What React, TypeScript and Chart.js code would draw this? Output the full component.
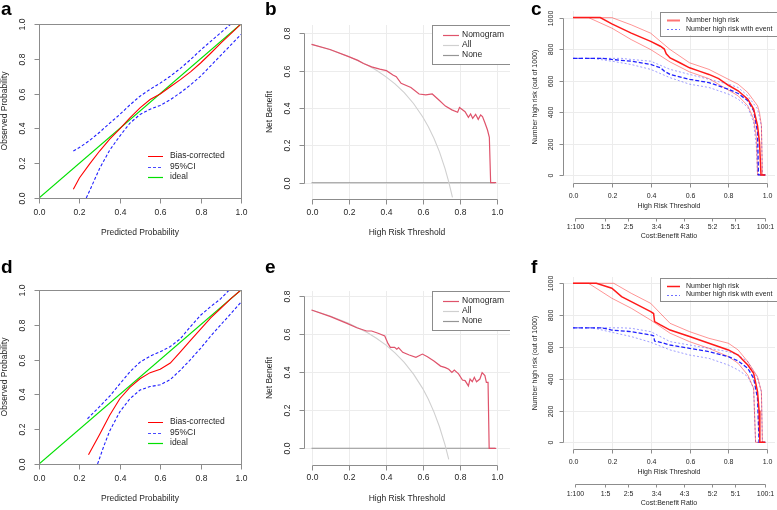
import React, { useEffect, useRef } from 'react';
import { Chart, registerables } from 'chart.js';

Chart.register(...registerables);

const FONT = '"Liberation Sans", Arial, Helvetica, sans-serif';
const TEXT = '#262626';
const AXIS = '#8c8c8c';

// ---------- tick labels ----------
const probTicks = [0, 0.2, 0.4, 0.6, 0.8, 1.0];
const probTickLabels = ['0.0', '0.2', '0.4', '0.6', '0.8', '1.0'];
const nbTicks = [0, 0.2, 0.4, 0.6, 0.8];
const nbTickLabels = ['0.0', '0.2', '0.4', '0.6', '0.8'];
const countTicks = [0, 200, 400, 600, 800, 1000];
const countTickLabels = ['0', '200', '400', '600', '800', '1000'];
const costBenefitLabels = ['1:100', '1:5', '2:5', '3:4', '4:3', '5:2', '5:1', '100:1'];
const costBenefitAt = [0.0099, 0.1667, 0.2857, 0.4286, 0.5714, 0.7143, 0.8333, 0.9901];

// ---------- panel a (calibration) ----------
const aIdealX = [0, 1];
const aIdealY = [0, 1];
const aBiasX = [0.17, 0.2, 0.25, 0.3, 0.35, 0.4, 0.45, 0.5, 0.55, 0.6, 0.65, 0.7, 0.75, 0.8, 0.85, 0.9, 0.95, 1.0];
const aBiasY = [0.05, 0.115, 0.195, 0.27, 0.338, 0.397, 0.46, 0.518, 0.566, 0.598, 0.639, 0.68, 0.725, 0.776, 0.832, 0.89, 0.945, 1.0];
const aUpperX = [0.17, 0.2, 0.25, 0.3, 0.35, 0.4, 0.45, 0.5, 0.55, 0.6, 0.65, 0.7, 0.75, 0.8, 0.85, 0.9, 0.95, 1.0];
const aUpperY = [0.27, 0.29, 0.33, 0.378, 0.43, 0.48, 0.535, 0.585, 0.625, 0.66, 0.7, 0.745, 0.795, 0.85, 0.9, 0.95, 1.0, 1.05];
const aLowerX = [0.234, 0.25, 0.3, 0.35, 0.4, 0.45, 0.5, 0.55, 0.6, 0.65, 0.7, 0.75, 0.8, 0.85, 0.9, 0.95, 1.0];
const aLowerY = [0, 0.04, 0.17, 0.275, 0.356, 0.43, 0.48, 0.51, 0.532, 0.565, 0.605, 0.65, 0.7, 0.76, 0.82, 0.88, 0.94];

// ---------- panel d (calibration) ----------
const dIdealX = [0, 1];
const dIdealY = [0, 1];
const dBiasX = [0.245, 0.3, 0.35, 0.4, 0.45, 0.5, 0.55, 0.6, 0.65, 0.7, 0.75, 0.8, 0.85, 0.9, 0.95, 1.0];
const dBiasY = [0.053, 0.17, 0.28, 0.375, 0.44, 0.49, 0.525, 0.545, 0.58, 0.645, 0.71, 0.775, 0.84, 0.895, 0.95, 1.0];
const dUpperX = [0.24, 0.3, 0.35, 0.4, 0.45, 0.5, 0.55, 0.6, 0.65, 0.7, 0.75, 0.8, 0.85, 0.9, 0.95, 1.0];
const dUpperY = [0.26, 0.33, 0.39, 0.46, 0.53, 0.585, 0.62, 0.645, 0.675, 0.72, 0.79, 0.855, 0.905, 0.95, 1.01, 1.06];
const dLowerX = [0.29, 0.32, 0.35, 0.4, 0.45, 0.5, 0.55, 0.6, 0.65, 0.7, 0.75, 0.8, 0.85, 0.9, 0.95, 1.0];
const dLowerY = [0, 0.1, 0.19, 0.3, 0.375, 0.425, 0.445, 0.455, 0.485, 0.54, 0.6, 0.665, 0.735, 0.8, 0.865, 0.93];

// ---------- panel b (decision curve) ----------
const bNomX = [0, 0.1, 0.2, 0.25, 0.28, 0.324, 0.368, 0.404, 0.439, 0.457, 0.483, 0.536, 0.58, 0.616, 0.651, 0.687, 0.722, 0.757, 0.788, 0.798, 0.828, 0.846, 0.858, 0.869, 0.885, 0.899, 0.912, 0.922, 0.935, 0.949, 0.959, 0.966, 0.996];
const bNomY = [0.741, 0.713, 0.675, 0.655, 0.638, 0.62, 0.608, 0.6, 0.577, 0.568, 0.532, 0.51, 0.475, 0.47, 0.475, 0.443, 0.41, 0.39, 0.377, 0.403, 0.38, 0.35, 0.368, 0.345, 0.366, 0.339, 0.3625, 0.354, 0.321, 0.282, 0.243, 0, 0];
const bAllX = [0, 0.1, 0.2, 0.3, 0.35, 0.4, 0.45, 0.5, 0.55, 0.6, 0.63, 0.66, 0.69, 0.72, 0.74, 0.76];
const bAllY = [0.741, 0.712, 0.676, 0.63, 0.602, 0.568, 0.529, 0.482, 0.424, 0.352, 0.3, 0.238, 0.165, 0.075, 0.004, -0.079];
const bNoneX = [0, 0.99];
const bNoneY = [0, 0];

// ---------- panel e (decision curve) ----------
const eNomX = [0, 0.103, 0.191, 0.244, 0.297, 0.324, 0.359, 0.395, 0.412, 0.425, 0.448, 0.46, 0.469, 0.492, 0.527, 0.563, 0.598, 0.625, 0.66, 0.696, 0.722, 0.74, 0.757, 0.77, 0.793, 0.814, 0.828, 0.846, 0.855, 0.867, 0.878, 0.89, 0.908, 0.92, 0.935, 0.943, 0.952, 0.958, 0.996];
const eNomY = [0.725, 0.69, 0.655, 0.632, 0.615, 0.615, 0.603, 0.589, 0.55, 0.529, 0.529, 0.519, 0.528, 0.503, 0.489, 0.477, 0.494, 0.48, 0.458, 0.431, 0.423, 0.414, 0.398, 0.41, 0.39, 0.358, 0.355, 0.327, 0.363, 0.349, 0.372, 0.349, 0.363, 0.397, 0.381, 0.346, 0.346, 0, 0];
const eAllX = [0, 0.1, 0.2, 0.3, 0.35, 0.4, 0.45, 0.5, 0.55, 0.6, 0.63, 0.66, 0.69, 0.72, 0.74];
const eAllY = [0.725, 0.694, 0.656, 0.607, 0.577, 0.542, 0.5, 0.45, 0.389, 0.313, 0.257, 0.191, 0.113, 0.018, -0.058];
const eNoneX = [0, 0.99];
const eNoneY = [0, 0];

// ---------- panel c (clinical impact) ----------
const cRiskX = [0, 0.14, 0.2, 0.3, 0.4, 0.45, 0.47, 0.48, 0.5, 0.55, 0.6, 0.65, 0.7, 0.75, 0.8, 0.85, 0.9, 0.93, 0.95, 0.96, 0.968, 0.99];
const cRiskY = [1000, 1000, 960, 901, 849, 818, 800, 770, 744, 713, 681, 660, 639, 612, 570, 535, 482, 419, 314, 210, 0, 0];
const cRiskHiX = [0, 0.2, 0.3, 0.4, 0.5, 0.6, 0.7, 0.8, 0.85, 0.9, 0.95, 0.96, 0.97, 0.975, 0.99];
const cRiskHiY = [1000, 1000, 954, 901, 797, 713, 671, 608, 577, 524, 440, 398, 314, 0, 0];
const cRiskLoX = [0, 0.08, 0.2, 0.3, 0.4, 0.5, 0.6, 0.7, 0.8, 0.85, 0.9, 0.93, 0.945, 0.95, 0.99];
const cRiskLoY = [1000, 1000, 933, 860, 797, 718, 655, 612, 540, 503, 440, 356, 231, 0, 0];
const cEventX = [0, 0.15, 0.2, 0.3, 0.4, 0.45, 0.47, 0.5, 0.6, 0.7, 0.8, 0.85, 0.9, 0.93, 0.95, 0.955, 0.99];
const cEventY = [741, 741, 734, 723, 702, 681, 660, 639, 608, 587, 545, 518, 472, 409, 273, 0, 0];
const cEventHiX = [0, 0.25, 0.3, 0.4, 0.5, 0.6, 0.7, 0.8, 0.85, 0.9, 0.95, 0.97, 0.975, 0.99];
const cEventHiY = [741, 741, 734, 723, 671, 639, 608, 577, 556, 503, 419, 314, 0, 0];
const cEventLoX = [0, 0.1, 0.2, 0.3, 0.4, 0.5, 0.6, 0.7, 0.8, 0.85, 0.9, 0.93, 0.945, 0.95, 0.99];
const cEventLoY = [741, 741, 723, 702, 671, 618, 577, 556, 514, 482, 430, 335, 168, 0, 0];

// ---------- panel f (clinical impact) ----------
const fRiskX = [0, 0.12, 0.2, 0.25, 0.3, 0.35, 0.4, 0.415, 0.42, 0.45, 0.5, 0.6, 0.7, 0.8, 0.85, 0.9, 0.93, 0.95, 0.958, 0.962, 0.99];
const fRiskY = [1000, 1000, 969, 916, 885, 853, 822, 810, 759, 738, 706, 665, 623, 581, 549, 486, 434, 319, 200, 0, 0];
const fRiskHiX = [0, 0.21, 0.3, 0.4, 0.5, 0.6, 0.7, 0.8, 0.85, 0.9, 0.95, 0.97, 0.975, 0.99];
const fRiskHiY = [1000, 1000, 937, 874, 748, 696, 654, 623, 581, 507, 413, 319, 0, 0];
const fRiskLoX = [0, 0.08, 0.2, 0.3, 0.4, 0.5, 0.6, 0.7, 0.8, 0.85, 0.9, 0.93, 0.94, 0.99];
const fRiskLoY = [1000, 1000, 906, 843, 769, 686, 633, 591, 539, 497, 423, 340, 0, 0];
const fEventX = [0, 0.15, 0.2, 0.3, 0.4, 0.415, 0.42, 0.45, 0.5, 0.6, 0.7, 0.8, 0.85, 0.9, 0.93, 0.95, 0.958, 0.99];
const fEventY = [720, 720, 706, 696, 675, 670, 637, 629, 612, 591, 570, 539, 512, 465, 403, 277, 0, 0];
const fEventHiX = [0, 0.25, 0.3, 0.4, 0.5, 0.6, 0.7, 0.8, 0.85, 0.9, 0.95, 0.97, 0.975, 0.99];
const fEventHiY = [720, 720, 717, 696, 633, 612, 591, 570, 549, 507, 403, 319, 0, 0];
const fEventLoX = [0, 0.1, 0.2, 0.3, 0.4, 0.5, 0.6, 0.7, 0.8, 0.85, 0.9, 0.93, 0.94, 0.99];
const fEventLoY = [720, 720, 692, 665, 629, 581, 549, 528, 486, 455, 413, 340, 0, 0];

// ---------- types ----------
interface Line { xs: number[]; ys: number[]; color: string; width: number; dash?: number[] }
interface LegendItem { label: string; color: string; width: number; dash?: number[] }
interface Legend {
  box: [number, number, number, number] | null;
  lineX: [number, number];
  textX: number;
  ys: number[];
  items: LegendItem[];
  fontSize: number;
}
interface Spec {
  letter: string;
  letterPos: [number, number];
  canvas: [number, number, number, number];
  area: [number, number, number, number];
  xr: [number, number];
  yr: [number, number];
  xTicks: number[];
  xLabels: string[];
  yTicks: number[];
  yLabels: string[];
  tickLen: number;
  xLabelY: number;
  xTitleY: number;
  xTitle: string;
  yLabelX: number;
  yTitleX: number;
  yTitle: string;
  frame: boolean;
  grid: boolean;
  fontSize: number;
  legend: Legend;
  cb?: { lineY: number; labelY: number; titleY: number };
  lines: Line[];
}

// ---------- styles ----------
const RED = '#ff0000';
const BLUE = '#1f1fff';
const GREEN = '#00e000';
const NOM = '#df536b';
const ALLC = '#d0d0d0';
const NONEC = '#959595';
const RED_MAIN = '#ff1a1a';
const RED_CI = 'rgba(255,0,0,0.42)';
const BLUE_MAIN = '#2020ff';
const BLUE_CI = 'rgba(40,40,255,0.45)';

const calLegendItems: LegendItem[] = [
  { label: 'Bias-corrected', color: RED, width: 1 },
  { label: '95%CI', color: '#4a4aff', width: 1, dash: [3, 2] },
  { label: 'ideal', color: GREEN, width: 1.2 },
];
const dcaLegendItems: LegendItem[] = [
  { label: 'Nomogram', color: NOM, width: 1.2 },
  { label: 'All', color: ALLC, width: 1.2 },
  { label: 'None', color: NONEC, width: 1.2 },
];

function calLines(bx: number[], by: number[], ux: number[], uy: number[], lx: number[], ly: number[], ix: number[], iy: number[]): Line[] {
  return [
    { xs: bx, ys: by, color: RED, width: 1.1 },
    { xs: ux, ys: uy, color: BLUE, width: 1.1, dash: [3, 2] },
    { xs: lx, ys: ly, color: BLUE, width: 1.1, dash: [3, 2] },
    { xs: ix, ys: iy, color: GREEN, width: 1.2 },
  ];
}

function dcaLines(nx: number[], ny: number[], ax: number[], ay: number[], zx: number[], zy: number[]): Line[] {
  return [
    { xs: nx, ys: ny, color: NOM, width: 1.2 },
    { xs: ax, ys: ay, color: ALLC, width: 1.1 },
    { xs: zx, ys: zy, color: NONEC, width: 1.1 },
  ];
}

function impactLines(rx: number[], ry: number[], rhx: number[], rhy: number[], rlx: number[], rly: number[],
  ex: number[], ey: number[], ehx: number[], ehy: number[], elx: number[], ely: number[]): Line[] {
  return [
    { xs: rx, ys: ry, color: RED_MAIN, width: 1.5 },
    { xs: ex, ys: ey, color: BLUE_MAIN, width: 1.3, dash: [4, 2] },
    { xs: rhx, ys: rhy, color: RED_CI, width: 1 },
    { xs: rlx, ys: rly, color: RED_CI, width: 1 },
    { xs: ehx, ys: ehy, color: BLUE_CI, width: 1, dash: [2, 2] },
    { xs: elx, ys: ely, color: BLUE_CI, width: 1, dash: [2, 2] },
  ];
}

const SPECS: Spec[] = [
  {
    letter: 'a', letterPos: [1, 15], canvas: [0, 0, 255, 255], area: [39, 24, 241, 198],
    xr: [0, 1], yr: [0, 1], xTicks: probTicks, xLabels: probTickLabels, yTicks: probTicks, yLabels: probTickLabels,
    tickLen: 5, xLabelY: 213, xTitleY: 233, xTitle: 'Predicted Probability', yLabelX: 23, yTitleX: 5,
    yTitle: 'Observed Probability', frame: true, grid: false, fontSize: 8.5,
    legend: { box: null, lineX: [148, 163], textX: 170, ys: [156, 166.5, 177], items: calLegendItems, fontSize: 8.5 },
    lines: calLines(aBiasX, aBiasY, aUpperX, aUpperY, aLowerX, aLowerY, aIdealX, aIdealY),
  },
  {
    letter: 'b', letterPos: [265, 15], canvas: [255, 0, 255, 255], area: [304, 25, 514, 199],
    xr: [-0.0407, 1.0704], yr: [-0.0873, 0.8444], xTicks: probTicks, xLabels: probTickLabels, yTicks: nbTicks, yLabels: nbTickLabels,
    tickLen: 5, xLabelY: 213, xTitleY: 233, xTitle: 'High Risk Threshold', yLabelX: 288, yTitleX: 270,
    yTitle: 'Net Benefit', frame: false, grid: true, fontSize: 8.5,
    legend: { box: [432, 25, 512, 64], lineX: [443, 459], textX: 462, ys: [35, 45, 55], items: dcaLegendItems, fontSize: 8.5 },
    lines: dcaLines(bNomX, bNomY, bAllX, bAllY, bNoneX, bNoneY),
  },
  {
    letter: 'c', letterPos: [531, 15], canvas: [510, 0, 267, 255], area: [563, 11, 775, 183],
    xr: [-0.0515, 1.04], yr: [-51, 1042], xTicks: probTicks, xLabels: probTickLabels, yTicks: countTicks, yLabels: countTickLabels,
    tickLen: 4, xLabelY: 196, xTitleY: 206, xTitle: 'High Risk Threshold', yLabelX: 551, yTitleX: 535,
    yTitle: 'Number high risk (out of 1000)', frame: false, grid: true, fontSize: 7,
    legend: {
      box: [660, 11.5, 779, 35], lineX: [667, 680], textX: 686, ys: [20, 29], fontSize: 7,
      items: [
        { label: 'Number high risk', color: '#ff7373', width: 2 },
        { label: 'Number high risk with event', color: '#7070ff', width: 1, dash: [2, 2] },
      ],
    },
    cb: { lineY: 218, labelY: 227, titleY: 236 },
    lines: impactLines(cRiskX, cRiskY, cRiskHiX, cRiskHiY, cRiskLoX, cRiskLoY, cEventX, cEventY, cEventHiX, cEventHiY, cEventLoX, cEventLoY),
  },
  {
    letter: 'd', letterPos: [1, 273], canvas: [0, 255, 255, 255], area: [39, 290, 241, 464],
    xr: [0, 1], yr: [0, 1], xTicks: probTicks, xLabels: probTickLabels, yTicks: probTicks, yLabels: probTickLabels,
    tickLen: 5, xLabelY: 479, xTitleY: 499, xTitle: 'Predicted Probability', yLabelX: 23, yTitleX: 5,
    yTitle: 'Observed Probability', frame: true, grid: false, fontSize: 8.5,
    legend: { box: null, lineX: [148, 163], textX: 170, ys: [422, 432.5, 443], items: calLegendItems, fontSize: 8.5 },
    lines: calLines(dBiasX, dBiasY, dUpperX, dUpperY, dLowerX, dLowerY, dIdealX, dIdealY),
  },
  {
    letter: 'e', letterPos: [265, 273], canvas: [255, 255, 255, 255], area: [304, 291, 514, 465],
    xr: [-0.0407, 1.0704], yr: [-0.0875, 0.8246], xTicks: probTicks, xLabels: probTickLabels, yTicks: nbTicks, yLabels: nbTickLabels,
    tickLen: 5, xLabelY: 478, xTitleY: 499, xTitle: 'High Risk Threshold', yLabelX: 288, yTitleX: 270,
    yTitle: 'Net Benefit', frame: false, grid: true, fontSize: 8.5,
    legend: { box: [432, 291, 512, 330], lineX: [443, 459], textX: 462, ys: [301, 311, 321], items: dcaLegendItems, fontSize: 8.5 },
    lines: dcaLines(eNomX, eNomY, eAllX, eAllY, eNoneX, eNoneY),
  },
  {
    letter: 'f', letterPos: [531, 273], canvas: [510, 255, 267, 255], area: [563, 277, 775, 449],
    xr: [-0.0515, 1.04], yr: [-42, 1039.6], xTicks: probTicks, xLabels: probTickLabels, yTicks: countTicks, yLabels: countTickLabels,
    tickLen: 4, xLabelY: 462, xTitleY: 472, xTitle: 'High Risk Threshold', yLabelX: 551, yTitleX: 535,
    yTitle: 'Number high risk (out of 1000)', frame: false, grid: true, fontSize: 7,
    legend: {
      box: [660, 277.5, 779, 300], lineX: [667, 680], textX: 686, ys: [286, 294.5], fontSize: 7,
      items: [
        { label: 'Number high risk', color: '#ff1a1a', width: 1.5 },
        { label: 'Number high risk with event', color: '#7070ff', width: 1, dash: [2, 2] },
      ],
    },
    cb: { lineY: 484, labelY: 494, titleY: 503 },
    lines: impactLines(fRiskX, fRiskY, fRiskHiX, fRiskHiY, fRiskLoX, fRiskLoY, fEventX, fEventY, fEventHiX, fEventHiY, fEventLoX, fEventLoY),
  },
];

function makePlugin(s: Spec) {
  const ox = s.canvas[0];
  const oy = s.canvas[1];
  const X = (p: number) => p - ox;
  const Y = (p: number) => p - oy;
  const half = (p: number) => Math.round(p) + 0.5;
  return {
    id: 'rstyle_' + s.letter,
    beforeDatasetsDraw(chart: any) {
      if (!s.grid) return;
      const ctx = chart.ctx as CanvasRenderingContext2D;
      const a = chart.chartArea;
      const xs = chart.scales.x;
      const ys = chart.scales.y;
      ctx.save();
      ctx.strokeStyle = '#ececec';
      ctx.lineWidth = 1;
      ctx.beginPath();
      for (const v of s.xTicks) {
        const p = half(xs.getPixelForValue(v));
        ctx.moveTo(p, a.top);
        ctx.lineTo(p, a.bottom);
      }
      for (const v of s.yTicks) {
        const p = half(ys.getPixelForValue(v));
        ctx.moveTo(a.left, p);
        ctx.lineTo(a.right, p);
      }
      ctx.stroke();
      ctx.restore();
    },
    afterDraw(chart: any) {
      const ctx = chart.ctx as CanvasRenderingContext2D;
      const a = chart.chartArea;
      const xs = chart.scales.x;
      const ys = chart.scales.y;
      const fs = s.fontSize;
      ctx.save();
      ctx.strokeStyle = AXIS;
      ctx.lineWidth = 1;
      ctx.setLineDash([]);
      const bx = half(a.bottom);
      const lx = half(a.left);
      if (s.frame) {
        ctx.strokeRect(lx, half(a.top), Math.round(a.right - a.left), Math.round(a.bottom - a.top));
      }
      // x axis
      const xp = s.xTicks.map((v) => half(xs.getPixelForValue(v)));
      ctx.beginPath();
      ctx.moveTo(xp[0], bx);
      ctx.lineTo(xp[xp.length - 1], bx);
      for (const p of xp) {
        ctx.moveTo(p, bx);
        ctx.lineTo(p, bx + s.tickLen);
      }
      // y axis
      const yp = s.yTicks.map((v) => half(ys.getPixelForValue(v)));
      ctx.moveTo(lx, yp[0]);
      ctx.lineTo(lx, yp[yp.length - 1]);
      for (const p of yp) {
        ctx.moveTo(lx, p);
        ctx.lineTo(lx - s.tickLen, p);
      }
      ctx.stroke();

      ctx.fillStyle = TEXT;
      ctx.font = `${fs}px ${FONT}`;
      ctx.textAlign = 'center';
      ctx.textBaseline = 'middle';
      s.xLabels.forEach((t, i) => ctx.fillText(t, xp[i], Y(s.xLabelY)));
      s.yLabels.forEach((t, i) => {
        ctx.save();
        ctx.translate(X(s.yLabelX), yp[i]);
        ctx.rotate(-Math.PI / 2);
        ctx.fillText(t, 0, 0);
        ctx.restore();
      });
      ctx.fillText(s.xTitle, (a.left + a.right) / 2, Y(s.xTitleY));
      ctx.save();
      ctx.translate(X(s.yTitleX), (a.top + a.bottom) / 2);
      ctx.rotate(-Math.PI / 2);
      ctx.fillText(s.yTitle, 0, 0);
      ctx.restore();

      // cost:benefit axis
      if (s.cb) {
        const cp = costBenefitAt.map((v) => half(xs.getPixelForValue(v)));
        const ly = half(Y(s.cb.lineY));
        ctx.beginPath();
        ctx.moveTo(cp[0], ly);
        ctx.lineTo(cp[cp.length - 1], ly);
        for (const p of cp) {
          ctx.moveTo(p, ly);
          ctx.lineTo(p, ly + 3);
        }
        ctx.stroke();
        costBenefitLabels.forEach((t, i) => ctx.fillText(t, cp[i], Y(s.cb!.labelY)));
        ctx.fillText('Cost:Benefit Ratio', (a.left + a.right) / 2, Y(s.cb.titleY));
      }

      // legend
      const lg = s.legend;
      if (lg.box) {
        const [l, t, r, b] = lg.box;
        ctx.fillStyle = '#ffffff';
        ctx.fillRect(X(l), Y(t), r - l, b - t);
        ctx.strokeStyle = '#8c8c8c';
        ctx.strokeRect(half(X(l)), half(Y(t)), Math.round(r - l), Math.round(b - t));
      }
      ctx.font = `${lg.fontSize}px ${FONT}`;
      ctx.textAlign = 'left';
      lg.items.forEach((it, i) => {
        const yy = Y(lg.ys[i]);
        ctx.strokeStyle = it.color;
        ctx.lineWidth = it.width;
        ctx.setLineDash(it.dash || []);
        ctx.beginPath();
        ctx.moveTo(X(lg.lineX[0]), Math.round(yy) + 0.5);
        ctx.lineTo(X(lg.lineX[1]), Math.round(yy) + 0.5);
        ctx.stroke();
        ctx.setLineDash([]);
        ctx.fillStyle = TEXT;
        ctx.fillText(it.label, X(lg.textX), yy);
      });

      // panel letter
      ctx.fillStyle = '#000000';
      ctx.font = `bold 19px ${FONT}`;
      ctx.textAlign = 'left';
      ctx.textBaseline = 'alphabetic';
      ctx.fillText(s.letter, X(s.letterPos[0]), Y(s.letterPos[1]));
      ctx.restore();
    },
  };
}

function Panel({ spec }: { spec: Spec }) {
  const ref = useRef<HTMLCanvasElement>(null);
  useEffect(() => {
    const el = ref.current;
    if (!el) return;
    const [cx, cy, cw, ch] = spec.canvas;
    const [al, at, ar, ab] = spec.area;
    const chart = new Chart(el, {
      type: 'line',
      data: {
        datasets: spec.lines.map((l) => ({
          data: l.xs.map((x, i) => ({ x, y: l.ys[i] })),
          borderColor: l.color,
          borderWidth: l.width,
          borderDash: l.dash || [],
          pointRadius: 0,
          fill: false,
          tension: 0,
        })),
      },
      options: {
        responsive: false,
        animation: false,
        devicePixelRatio: 1,
        events: [],
        layout: { padding: { left: al - cx, top: at - cy, right: cx + cw - ar, bottom: cy + ch - ab } },
        plugins: { legend: { display: false }, tooltip: { enabled: false } },
        scales: {
          x: { type: 'linear', display: false, min: spec.xr[0], max: spec.xr[1] },
          y: { type: 'linear', display: false, min: spec.yr[0], max: spec.yr[1] },
        },
      } as any,
      plugins: [makePlugin(spec)],
    });
    return () => chart.destroy();
  }, [spec]);
  return (
    <canvas
      ref={ref}
      width={spec.canvas[2]}
      height={spec.canvas[3]}
      style={{ position: 'absolute', left: spec.canvas[0], top: spec.canvas[1], width: spec.canvas[2], height: spec.canvas[3] }}
    />
  );
}

export default function App() {
  return (
    <div style={{ position: 'fixed', left: 0, top: 0, width: 777, height: 510, background: '#ffffff', overflow: 'hidden' }}>
      {SPECS.map((s) => (
        <Panel key={s.letter} spec={s} />
      ))}
    </div>
  );
}
